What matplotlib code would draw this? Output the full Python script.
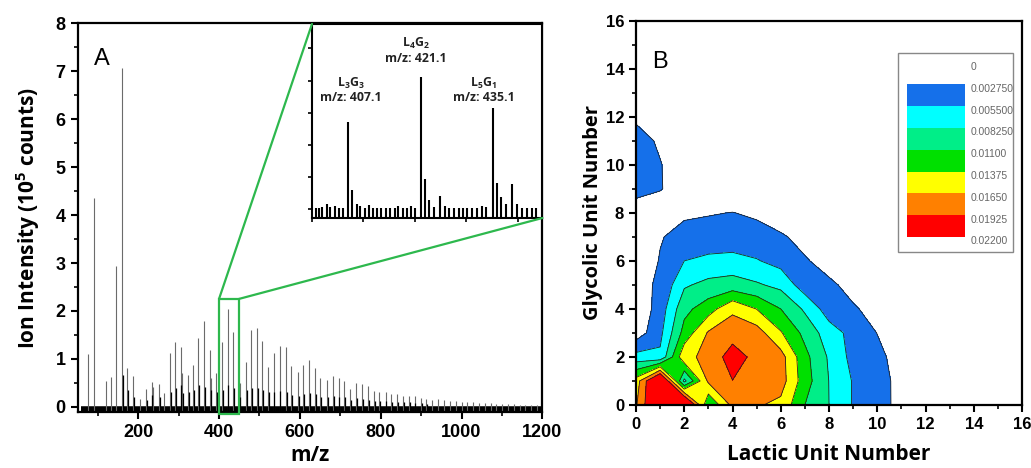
import numpy as np
import matplotlib
matplotlib.use("Agg")
import matplotlib.pyplot as plt
from matplotlib.colors import ListedColormap, BoundaryNorm
from matplotlib.cm import ScalarMappable
from matplotlib.patches import Rectangle, ConnectionPatch
from matplotlib.ticker import MultipleLocator
from matplotlib.transforms import ScaledTranslation

plt.rcParams['font.family'] = ['Liberation Sans', 'DejaVu Sans']
plt.rcParams['mathtext.fontset'] = 'custom'
plt.rcParams['mathtext.rm'] = 'Open Sans'
plt.rcParams['mathtext.bf'] = 'Open Sans:bold'

# --- panel A: mass spectrum (m/z, intensity in 1e5 counts) ---
main_mz = [76, 90, 120, 134, 146, 161, 173, 187, 204, 219, 233, 237, 251, 264,
           278, 292, 305, 308, 323, 336, 349, 364, 377, 379, 393, 407, 421, 435,
           451, 466, 480, 494, 507, 521, 535, 550, 565, 579, 595, 608, 622, 637,
           651, 667, 682, 696, 710, 725, 740, 754, 768, 783, 797, 812, 826, 840,
           855, 870, 884, 899, 913, 928, 942, 957, 971, 986, 1000, 1014, 1029,
           1043, 1058, 1072, 1086, 1101, 1115, 1129, 1144, 1158, 1173, 1187]
main_int = [1.11, 4.35, 0.54, 0.63, 2.94, 7.08, 0.80, 0.64, 0.17, 0.37, 0.51, 0.42,
            0.47, 0.29, 1.13, 1.36, 1.25, 0.70, 0.66, 0.88, 1.43, 1.79, 1.18, 0.59,
            0.71, 1.35, 2.05, 1.57, 0.50, 0.94, 1.60, 1.64, 1.38, 0.84, 1.13, 1.27,
            1.24, 0.85, 0.73, 0.87, 0.97, 0.80, 0.59, 0.56, 0.65, 0.61, 0.54, 0.38,
            0.49, 0.47, 0.43, 0.33, 0.31, 0.31, 0.26, 0.26, 0.22, 0.23, 0.23, 0.19,
            0.16, 0.15, 0.17, 0.14, 0.13, 0.13, 0.10, 0.10, 0.10, 0.08, 0.08, 0.07,
            0.06, 0.05, 0.06, 0.05, 0.04, 0.04, 0.03, 0.03]

minor_mz = [163, 175, 189, 221, 235, 253, 280, 294, 307, 310, 325, 338, 351, 366,
            381, 395, 409, 423, 437, 453, 468, 482, 496, 509, 523, 537, 552, 567,
            581, 597, 610, 624, 639, 653, 669, 684, 698, 712, 727, 742, 756, 770,
            785, 799, 814, 828, 842, 857, 872, 886, 901, 915]
minor_int = [0.66, 0.35, 0.20, 0.15, 0.25, 0.20, 0.30, 0.40, 0.45, 0.28, 0.30, 0.35,
             0.45, 0.42, 0.35, 0.30, 0.35, 0.45, 0.40, 0.20, 0.35, 0.40, 0.40, 0.35,
             0.30, 0.30, 0.32, 0.30, 0.25, 0.22, 0.26, 0.28, 0.26, 0.20, 0.20, 0.22,
             0.20, 0.20, 0.15, 0.18, 0.17, 0.15, 0.12, 0.12, 0.11, 0.10, 0.10, 0.09,
             0.09, 0.08, 0.07, 0.06]

# zoomed region 400-445
inset_mz = [400.8, 401.4, 402.0, 402.9, 403.6, 404.5, 405.3, 406.1, 407.1, 407.8,
            408.7, 409.4, 410.3, 411.1, 411.9, 412.7, 413.5, 414.3, 415.1, 416.1,
            416.8, 417.7, 418.4, 419.2, 420.0, 421.1, 422.0, 422.8, 423.8, 424.9,
            425.8, 426.7, 427.6, 428.5, 429.4, 430.2, 431.1, 432.0, 433.0, 433.8,
            435.1, 435.9, 436.8, 437.8, 438.9, 439.9, 440.8, 441.8, 442.8, 443.5]
inset_int = [0.02, 0.02, 0.03, 0.08, 0.03, 0.04, 0.02, 0.01, 1.35, 0.30,
             0.08, 0.04, 0.01, 0.07, 0.02, 0.01, 0.01, 0.01, 0.01, 0.01,
             0.05, 0.01, 0.01, 0.04, 0.02, 2.05, 0.47, 0.14, 0.03, 0.21,
             0.04, 0.01, 0.01, 0.01, 0.01, 0.01, 0.01, 0.01, 0.05, 0.03,
             1.57, 0.41, 0.19, 0.08, 0.39, 0.08, 0.01, 0.01, 0.01, 0.01]
peak_labels = ['L$_\\mathregular{3}$G$_\\mathregular{3}$\nm/z: 407.1',
               'L$_\\mathregular{4}$G$_\\mathregular{2}$\nm/z: 421.1',
               'L$_\\mathregular{5}$G$_\\mathregular{1}$\nm/z: 435.1']
label_x = [407.5, 420.2, 433.4]
label_y = [1.85, 2.47, 1.85]

# --- panel B: contour (rows = glycolic 0..13, cols = lactic 0..12) ---
z_rows = [
    [0.0162, 0.0245, 0.0260, 0.0110, 0.0172, 0.0168, 0.0158, 0.0110, 0.00825, 0.0053, 0.0036, 0.0021, 0],
    [0.0150, 0.0250, 0.0075, 0.0170, 0.0192, 0.0188, 0.01775, 0.0122, 0.0082, 0.0053, 0.0037, 0.0020, 0],
    [0.0065, 0.0060, 0.0158, 0.0172, 0.0207, 0.0183, 0.0176, 0.0118, 0.0079, 0.0046, 0.0034, 0.0017, 0],
    [0.0012, 0.0048, 0.0120, 0.0168, 0.0180, 0.0178, 0.0140, 0.0102, 0.0068, 0.0046, 0.0027, 0.0008, 0],
    [0.0005, 0.0040, 0.0102, 0.0125, 0.0160, 0.0137, 0.0110, 0.0078, 0.0041, 0.0030, 0.0020, 0.0002, 0],
    [0.0020, 0.0031, 0.0079, 0.0090, 0.0094, 0.0086, 0.0075, 0.0040, 0.0032, 0.0020, 0.0008, 0, 0],
    [0.0010, 0.0029, 0.0055, 0.0062, 0.0065, 0.0057, 0.0045, 0.0030, 0.0018, 0.0008, 0, 0, 0],
    [0.0010, 0.0026, 0.0035, 0.0037, 0.0037, 0.0036, 0.0031, 0.0019, 0.0008, 0, 0, 0, 0],
    [0.0010, 0.0012, 0.0024, 0.0026, 0.0028, 0.0024, 0.0012, 0.0005, 0, 0, 0, 0, 0],
    [0.0039, 0.0029, 0.0015, 0.0010, 0.0010, 0.0005, 0, 0, 0, 0, 0, 0, 0],
    [0.0042, 0.0029, 0.0010, 0.0005, 0, 0, 0, 0, 0, 0, 0, 0, 0],
    [0.0040, 0.0023, 0.0005, 0, 0, 0, 0, 0, 0, 0, 0, 0, 0],
    [0.0022, 0.0008, 0, 0, 0, 0, 0, 0, 0, 0, 0, 0, 0],
    [0.0005, 0, 0, 0, 0, 0, 0, 0, 0, 0, 0, 0, 0],
]
levels = [0, 0.00275, 0.0055, 0.00825, 0.011, 0.01375, 0.0165, 0.01925, 0.022]
level_labels = ['0', '0.002750', '0.005500', '0.008250', '0.01100',
                '0.01375', '0.01650', '0.01925', '0.02200']
band_colors = ['#ffffff', '#1570ea', '#00ffff', '#00ee88', '#00e000',
               '#ffff00', '#ff8000', '#ff0000']

green = '#2db84d'
lab_font = dict(family='Open Sans', fontweight='bold')

fig = plt.figure(figsize=(10.31, 4.68), dpi=100)

# ---------- A ----------
axA = fig.add_axes([0.0752, 0.1186, 0.4509, 0.8312])
ybot = -0.12
axA.hlines(-0.045, 58, 1200, color='k', lw=4.0, zorder=1)
axA.vlines(main_mz, ybot, main_int, color='0.42', lw=0.8, zorder=2)
axA.vlines(minor_mz, ybot, minor_int, color='k', lw=0.9, zorder=2)
axA.set_xlim(50, 1200)
axA.set_ylim(ybot, 8)
axA.xaxis.set_major_locator(MultipleLocator(200))
axA.xaxis.set_minor_locator(MultipleLocator(100))
axA.yaxis.set_major_locator(MultipleLocator(1))
axA.yaxis.set_minor_locator(MultipleLocator(0.5))
axA.set_xlabel('m/z', fontsize=15, labelpad=3, **lab_font)
axA.set_ylabel('Ion Intensity (10$^\\mathbf{5}$ counts)', fontsize=15, labelpad=10, **lab_font)
axA.text(0.053, 0.91, 'A', transform=axA.transAxes, fontsize=17, ha='center', va='center')

box = Rectangle((400, -0.15), 49, 2.4, fill=False, edgecolor=green, lw=1.6,
                clip_on=False, zorder=4)
axA.add_patch(box)

# inset
axI = fig.add_axes([0.3026, 0.5342, 0.2235, 0.4145])
ibot = -0.14
axI.vlines(inset_mz, ibot, inset_int, color='k', lw=1.5)
axI.set_xlim(400, 444.8)
axI.set_ylim(ibot, 2.88)
axI.xaxis.set_major_locator(MultipleLocator(10))
axI.yaxis.set_major_locator(MultipleLocator(0.5))
axI.set_xticklabels([])
axI.set_yticklabels([])
axI.tick_params(direction='out', length=3, width=1.2)
for s in axI.spines.values():
    s.set_linewidth(1.5)
for txt, lx, ly in zip(peak_labels, label_x, label_y):
    axI.text(lx, ly, txt, ha='center', va='center', fontsize=8.8, color='#222222',
             linespacing=1.05, **lab_font)

for ia, ib in [((0, 1), (400, 2.25)), ((1, 0), (449, 2.25))]:
    con = ConnectionPatch(xyA=ia, coordsA=axI.transAxes, xyB=ib, coordsB=axA.transData,
                          color=green, lw=1.6, zorder=5)
    fig.add_artist(con)

# ---------- B ----------
z = np.zeros((17, 17))
zr = np.array(z_rows)
z[:zr.shape[0], :zr.shape[1]] = zr
xg = np.arange(17)
yg = np.arange(17)

axB = fig.add_axes([0.6169, 0.1346, 0.3744, 0.8212])
axB.contourf(xg, yg, z, levels=levels[1:], colors=band_colors[1:] + [band_colors[-1]],
             extend='max')
axB.contour(xg, yg, z, levels=levels[1:-1], colors='#222222', linewidths=0.6)
axB.set_xlim(0, 16)
axB.set_ylim(0, 16)
axB.xaxis.set_major_locator(MultipleLocator(2))
axB.xaxis.set_minor_locator(MultipleLocator(1))
axB.yaxis.set_major_locator(MultipleLocator(2))
axB.yaxis.set_minor_locator(MultipleLocator(1))
axB.set_xlabel('Lactic Unit Number', fontsize=15, labelpad=9, **lab_font)
axB.set_ylabel('Glycolic Unit Number', fontsize=14.5, labelpad=2, **lab_font)
axB.text(0.062, 0.893, 'B', transform=axB.transAxes, fontsize=17, ha='center', va='center')
axB.add_patch(Rectangle((0.6788, 0.398), 0.298, 0.5178, transform=axB.transAxes,
                        facecolor='white', edgecolor='#888888', lw=1.0, zorder=5))

for ax, fs in [(axA, 13), (axB, 12)]:
    ax.tick_params(which='major', direction='out', length=5, width=1.5, labelsize=fs)
    ax.tick_params(which='minor', direction='out', length=3, width=1.2)
    for lbl in ax.get_xticklabels() + ax.get_yticklabels():
        lbl.set_fontweight('bold')
    for s in ax.spines.values():
        s.set_linewidth(1.6)

cax = fig.add_axes([0.8794, 0.4936, 0.0566, 0.3726])
cax.set_zorder(3)
sm = ScalarMappable(norm=BoundaryNorm(levels, len(band_colors)), cmap=ListedColormap(band_colors))
cb = fig.colorbar(sm, cax=cax, ticks=levels, spacing='uniform')
cb.outline.set_visible(False)
cax.invert_yaxis()
cax.set_yticklabels(level_labels)
cax.tick_params(length=0, pad=4, labelsize=7.4, labelcolor='#666666')
shift = ScaledTranslation(0, -2.5 / 72, fig.dpi_scale_trans)
for t in cax.get_yticklabels():
    t.set_transform(t.get_transform() + shift)

fig.savefig('out.png', dpi=100)
